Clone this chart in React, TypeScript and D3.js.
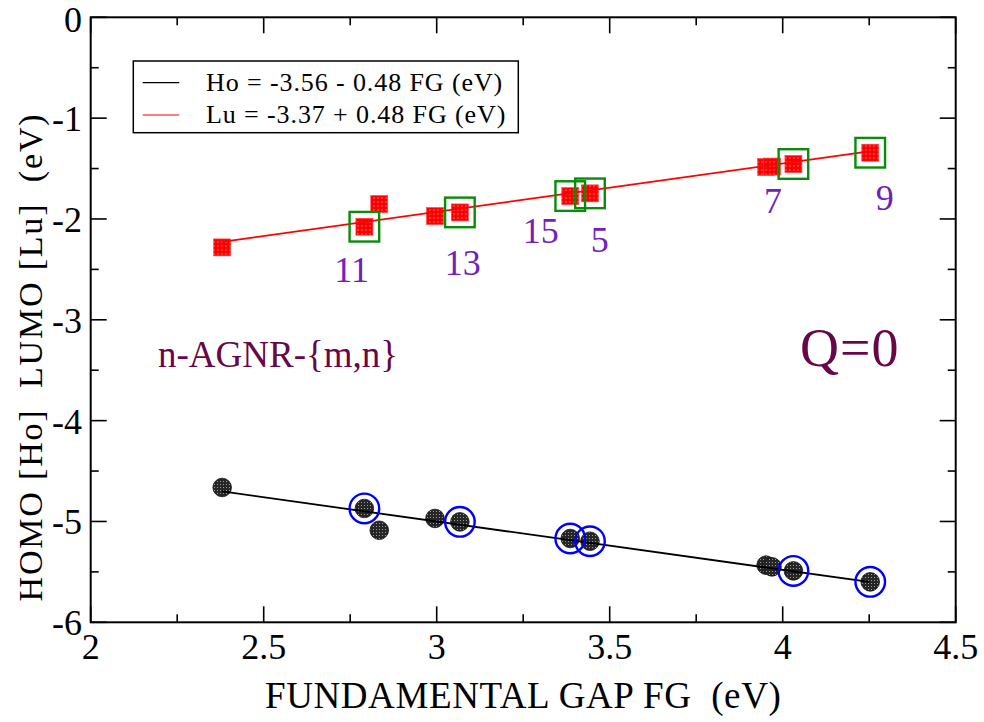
import React from "react";
import * as d3 from "d3";

// ---- data ----
const fundamentalGap = [2.380, 2.791, 2.834, 2.995, 3.067, 3.386, 3.443, 3.952, 3.969, 4.031, 4.253];
const homo = [-4.663, -4.871, -5.087, -4.970, -5.004, -5.169, -5.196, -5.433, -5.450, -5.490, -5.599];
const lumo = [-2.282, -2.077, -1.852, -1.971, -1.935, -1.773, -1.746, -1.485, -1.480, -1.455, -1.343];
const highlighted = [1, 4, 5, 6, 9, 10];
const labelTexts = ["11", "13", "15", "5", "7", "9"];
const labelX = [2.754, 3.075, 3.301, 3.471, 3.972, 4.295];
const labelY = [-2.623, -2.557, -2.236, -2.325, -1.941, -1.912];
const fitRange = [2.38, 4.25];
const hoIntercept = -3.56;
const hoSlope = -0.48;
const luIntercept = -3.37;
const luSlope = 0.48;
const xTicks = [2, 2.5, 3, 3.5, 4, 4.5];
const xMinorTicks = [2.25, 2.75, 3.25, 3.75, 4.25];
const yTicks = [0, -1, -2, -3, -4, -5, -6];
const yMinorTicks = [-0.5, -1.5, -2.5, -3.5, -4.5, -5.5];
const legendLabels = ["Ho = -3.56 - 0.48 FG (eV)", "Lu = -3.37 + 0.48 FG (eV)"];

const W = 984;
const H = 722;
const FONT = "'Liberation Serif', 'Times New Roman', serif";

export default function App() {
  const x = d3.scaleLinear().domain([2, 4.5]).range([90.7, 955.7]);
  const y = d3.scaleLinear().domain([-6, 0]).range([622.3, 17.3]);
  const [x0, x1] = x.range();
  const [y0, y1] = y.range();

  const hoLine = d3.line<number>().x((v) => x(v)).y((v) => y(hoIntercept + hoSlope * v));
  const luLine = d3.line<number>().x((v) => x(v)).y((v) => y(luIntercept + luSlope * v));

  const idx = fundamentalGap.map((_, i) => i);
  const major = 16;
  const minor = 8;

  return (
    <svg
      width={W}
      height={H}
      viewBox={`0 0 ${W} ${H}`}
      style={{ position: "absolute", left: 0, top: 0, background: "#fff" }}
      fontFamily={FONT}
    >
      <defs>
        <pattern id="redDots" width="4" height="4" patternUnits="userSpaceOnUse">
          <rect width="4" height="4" fill="#ff0000" />
          <rect x="1.5" y="1.5" width="1" height="1" fill="#ffd0d0" />
        </pattern>
        <pattern id="blackDots" width="3" height="3" patternUnits="userSpaceOnUse">
          <rect width="3" height="3" fill="#262626" />
          <rect x="1" y="1" width="1" height="1" fill="#9a9a9a" />
        </pattern>
      </defs>
      <rect width={W} height={H} fill="#fff" />

      {/* symbols */}
      {idx.map((i) => (
        <rect
          key={"s" + i}
          x={x(fundamentalGap[i]) - 8.5}
          y={y(lumo[i]) - 8.5}
          width={17}
          height={17}
          fill="url(#redDots)"
          stroke="#ff4040"
          strokeWidth={0.6}
        />
      ))}
      {idx.map((i) => (
        <circle
          key={"c" + i}
          cx={x(fundamentalGap[i])}
          cy={y(homo[i])}
          r={9.3}
          fill="url(#blackDots)"
          stroke="#111"
          strokeWidth={0.8}
        />
      ))}

      {/* fit lines */}
      <path d={luLine(fitRange) || ""} stroke="#ff0000" strokeWidth={1.8} fill="none" />
      <path d={hoLine(fitRange) || ""} stroke="#000" strokeWidth={1.8} fill="none" />

      {/* highlight boxes and rings */}
      {highlighted.map((i) => (
        <rect
          key={"b" + i}
          x={x(fundamentalGap[i]) - 14.8}
          y={y(lumo[i]) - 14.8}
          width={29.6}
          height={29.6}
          fill="none"
          stroke="#0a8c0a"
          strokeWidth={2.4}
        />
      ))}
      {highlighted.map((i) => (
        <circle
          key={"r" + i}
          cx={x(fundamentalGap[i])}
          cy={y(homo[i])}
          r={14.8}
          fill="none"
          stroke="#0000ff"
          strokeWidth={2.4}
        />
      ))}

      {/* labels */}
      {labelTexts.map((t, i) => (
        <text
          key={"l" + i}
          x={x(labelX[i])}
          y={y(labelY[i])}
          textAnchor="middle"
          fontSize={36}
          fill="#7221bc"
        >
          {t}
        </text>
      ))}
      <text x={158} y={367} fontSize={37} fill="#670748">
        n-AGNR-{"{m,n}"}
      </text>
      <text x={800} y={366} fontSize={54} fill="#670748" letterSpacing={1}>
        Q=0
      </text>

      {/* frame */}
      <rect x={x0} y={y1} width={x1 - x0} height={y0 - y1} fill="none" stroke="#000" strokeWidth={2} />
      {xTicks.map((t) => (
        <g key={"xt" + t}>
          <line x1={x(t)} x2={x(t)} y1={y0} y2={y0 - major} stroke="#000" strokeWidth={1.6} />
          <line x1={x(t)} x2={x(t)} y1={y1} y2={y1 + major} stroke="#000" strokeWidth={1.6} />
          <text x={x(t)} y={y0 + 37} textAnchor="middle" fontSize={36} fill="#000">
            {t}
          </text>
        </g>
      ))}
      {xMinorTicks.map((t) => (
        <g key={"xm" + t}>
          <line x1={x(t)} x2={x(t)} y1={y0} y2={y0 - minor} stroke="#000" strokeWidth={1.6} />
          <line x1={x(t)} x2={x(t)} y1={y1} y2={y1 + minor} stroke="#000" strokeWidth={1.6} />
        </g>
      ))}
      {yTicks.map((t) => (
        <g key={"yt" + t}>
          <line x1={x0} x2={x0 + major} y1={y(t)} y2={y(t)} stroke="#000" strokeWidth={1.6} />
          <line x1={x1} x2={x1 - major} y1={y(t)} y2={y(t)} stroke="#000" strokeWidth={1.6} />
          <text x={82} y={Math.max(y(t) + 13, 32)} textAnchor="end" fontSize={36} fill="#000">
            {t}
          </text>
        </g>
      ))}
      {yMinorTicks.map((t) => (
        <g key={"ym" + t}>
          <line x1={x0} x2={x0 + minor} y1={y(t)} y2={y(t)} stroke="#000" strokeWidth={1.6} />
          <line x1={x1} x2={x1 - minor} y1={y(t)} y2={y(t)} stroke="#000" strokeWidth={1.6} />
        </g>
      ))}

      {/* axis titles */}
      <text x={(x0 + x1) / 2} y={708} textAnchor="middle" fontSize={37} fill="#000" letterSpacing={0.6}>
        FUNDAMENTAL GAP FG{"\u00a0\u00a0"}(eV)
      </text>
      <text
        transform={`translate(41.7, 357) rotate(-90)`}
        textAnchor="middle"
        fontSize={34}
        fill="#000"
        letterSpacing={1.8}
      >
        HOMO [Ho]{"\u00a0\u00a0"}LUMO [Lu]{"\u00a0\u00a0"}(eV)
      </text>

      {/* legend */}
      <rect x={133.3} y={61} width={385} height={71.7} fill="#fff" stroke="#000" strokeWidth={1.5} />
      {legendLabels.map((t, i) => (
        <g key={"lg" + i}>
          <line
            x1={142.7}
            x2={179.3}
            y1={82.7 + i * 32.3}
            y2={82.7 + i * 32.3}
            stroke={i === 0 ? "#000" : "#ff0000"}
            strokeWidth={1.2}
          />
          <text x={206} y={82.7 + i * 32.3 + 8} fontSize={26} fill="#000" letterSpacing={0.9}>
            {t}
          </text>
        </g>
      ))}
    </svg>
  );
}
